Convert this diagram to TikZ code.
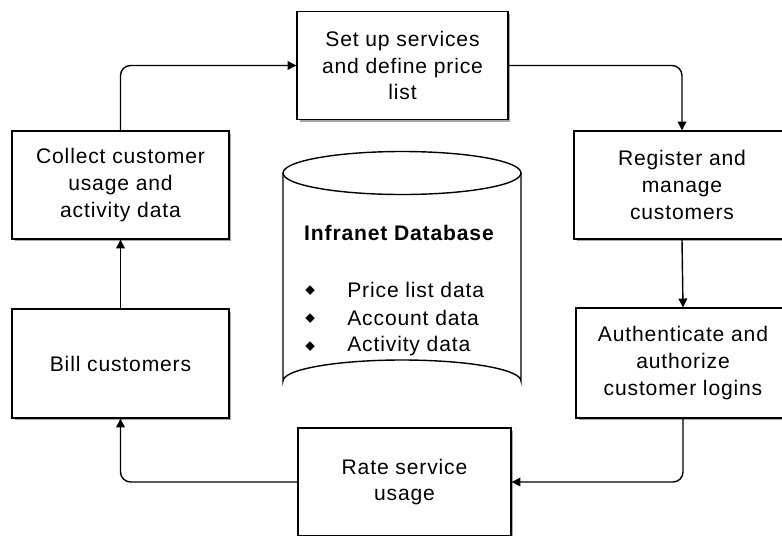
\documentclass[tikz,border=0pt]{standalone}
\usepackage{fontspec}
\setmainfont{Liberation Sans}[LetterSpace=4]
\usetikzlibrary{arrows.meta,shadows,shapes.geometric}

\begin{document}
\begin{tikzpicture}[x=0.02cm,y=-0.02cm,
        stage/.style={draw,rectangle,fill=white,line width=0.8pt,align=center,
            minimum width=4.26cm,minimum height=2.16cm,inner sep=2pt,
            font=\fontsize{12}{15.3}\selectfont,
            drop shadow={shadow xshift=0.05cm,shadow yshift=-0.05cm,fill=black!35,opacity=1}},
        flow/.style={line width=0.8pt,rounded corners=0.2cm,
            -{Triangle[length=5pt,width=5pt]}},
        dot/.style={draw,diamond,fill,inner sep=0pt,minimum size=5pt}]
    \useasboundingbox (0,0) rectangle (782,535);
    \clip (0,0) rectangle (782,535);

    % the six steps of the cycle
    \node[stage,minimum width=4.22cm] (setup) at (402.5,65.5) {Set up services\\and define price\\list};
    \node[stage,minimum width=4.34cm] (collect) at (120.5,185) {Collect customer\\usage and\\activity data};
    \node[stage,minimum width=4.32cm] (register) at (682,185) {Register and\\manage\\customers};
    \node[stage,minimum width=4.28cm,minimum height=2.2cm] (auth) at (683,363) {Authenticate and\\authorize\\customer logins};
    \node[stage,minimum width=4.26cm] (rate) at (404.5,482) {Rate service\\usage};
    \node[stage,minimum width=4.34cm,minimum height=2.18cm] (bill) at (120.5,363.5) {Bill customers};

    % database in the middle
    \draw[line width=0.8pt,fill=white] (283,173) -- (283,381)
        arc[start angle=180,end angle=360,x radius=119,y radius=21]
        -- (521,173) arc[start angle=0,end angle=-180,x radius=119,y radius=21.5];
    \draw[line width=0.8pt] (283,173) arc[start angle=180,end angle=0,x radius=119,y radius=21.5];
    \node[font=\fontsize{12}{15}\selectfont\bfseries] (dbname) at (399,233) {Infranet Database};
    \node[dot] (d1) at (310,290) {};
    \node[dot] (d2) at (310,318) {};
    \node[dot] (d3) at (310,346) {};
    \node[anchor=west,inner sep=0pt,font=\fontsize{12}{15}\selectfont] (i1) at (347,290) {Price list data};
    \node[anchor=west,inner sep=0pt,font=\fontsize{12}{15}\selectfont] (i2) at (347,318) {Account data};
    \node[anchor=west,inner sep=0pt,font=\fontsize{12}{15}\selectfont] (i3) at (347,346) {Activity data};

    % connectors
    \draw[flow] (collect.north) |- (setup.west);
    \draw[flow] (setup.east) -| (register.north);
    \draw[flow] (register.south) -- (auth.north);
    \draw[flow] (auth.south) |- (rate.east);
    \draw[flow] (rate.west) -| (bill.south);
    \draw[flow] (bill.north) -- (collect.south);
\end{tikzpicture}
\end{document}
